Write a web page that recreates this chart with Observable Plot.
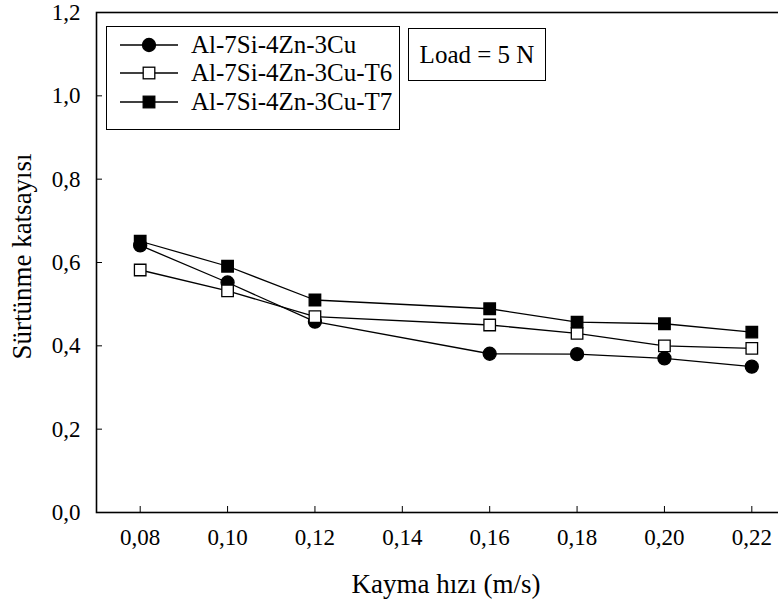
<!DOCTYPE html>
<html>
<head>
<meta charset="utf-8">
<script src="https://cdn.jsdelivr.net/npm/d3@7"></script>
<script src="https://cdn.jsdelivr.net/npm/@observablehq/plot@0.6"></script>
<style>
  body { margin: 0; background: #fff; }
  .box { position: absolute; border: 1.5px solid #000; background: #fff; box-sizing: border-box; }
  .row { position: absolute; left: 0; height: 28px; display: flex; align-items: center; }
  .row svg { display: block; }
</style>
</head>
<body>
<div id="wrap" style="position:relative;width:778px;height:602px;overflow:hidden;font-family:'Liberation Serif'">
  <div id="chart"></div>
  <div id="legend" class="box" style="left:106px; top:26px; width:294px; height:104px;"></div>
  <div id="load" class="box" style="left:408px; top:28px; width:138px; height:53px; display:flex; align-items:center; justify-content:center; font-family:'Liberation Serif'; font-size:25px;"></div>
</div>
<script>
// ---- data ----
const speeds = [0.08, 0.10, 0.12, 0.16, 0.18, 0.20, 0.22];
const asCast = [0.641, 0.552, 0.458, 0.381, 0.380, 0.370, 0.350];
const t6     = [0.582, 0.532, 0.470, 0.450, 0.430, 0.400, 0.394];
const t7     = [0.651, 0.591, 0.510, 0.489, 0.457, 0.453, 0.433];
const seriesNames = ["Al-7Si-4Zn-3Cu", "Al-7Si-4Zn-3Cu-T6", "Al-7Si-4Zn-3Cu-T7"];
const seriesSymbols = ["circle", "square", "square"];
const seriesFills = ["#000", "#fff", "#000"];
const xTicks = [0.08, 0.10, 0.12, 0.14, 0.16, 0.18, 0.20, 0.22];
const yTicks = [0, 0.2, 0.4, 0.6, 0.8, 1.0, 1.2];
const xTitle = "Kayma hızı (m/s)";
const yTitle = "Sürtünme katsayısı";
const loadText = "Load = 5 N";

const seriesValues = [asCast, t6, t7];
const rows = [];
seriesValues.forEach((vals, si) => vals.forEach((v, i) => rows.push({series: seriesNames[si], s: si, x: speeds[i], y: v})));

const fmtX = d => d.toFixed(2).replace(".", ",");
const fmtY = d => d.toFixed(1).replace(".", ",");
const FF = "Liberation Serif";

const chart = Plot.plot({
  width: 778, height: 602,
  marginLeft: 96, marginTop: 12, marginBottom: 90, marginRight: -17,
  style: {fontFamily: FF, fontSize: "23px", color: "#000", background: "#fff"},
  x: {domain: [0.07, 0.23]},
  y: {domain: [0, 1.2]},
  marks: [
    Plot.frame({stroke: "#000", strokeWidth: 1.6}),
    Plot.axisX(xTicks, {tickSize: -6, tickPadding: 22, tickFormat: fmtX, label: null, stroke: "#000", fontFamily: FF, fontSize: 23}),
    Plot.axisY(yTicks, {tickSize: -6, tickPadding: 22, tickFormat: fmtY, label: null, stroke: "#000", fontFamily: FF, fontSize: 23}),
    Plot.text([xTitle], {frameAnchor: "bottom", dy: 80, text: d => d, fontSize: 27, fontFamily: FF}),
    Plot.text([yTitle], {frameAnchor: "left", textAnchor: "middle", dx: -74, dy: -6, rotate: -90, text: d => d, fontSize: 27, fontFamily: FF}),
    Plot.line(rows, {x: "x", y: "y", z: "series", stroke: "#000", strokeWidth: 1.3}),
    Plot.dot(rows, {x: "x", y: "y", symbol: d => seriesSymbols[d.s], fill: d => seriesFills[d.s], stroke: "#000", strokeWidth: 1.3, r: 6.5})
  ]
});
document.getElementById("chart").appendChild(chart);

// ---- legend ----
const legend = document.getElementById("legend");
const rowTops = [4, 32, 61];
seriesNames.forEach((name, i) => {
  const row = document.createElement("div");
  row.className = "row";
  row.style.top = rowTops[i] + "px";
  const sym = seriesSymbols[i] === "circle"
    ? `<circle cx="30" cy="14" r="6.5" fill="${seriesFills[i]}" stroke="#000" stroke-width="1.3"/>`
    : `<rect x="24.2" y="8.2" width="11.6" height="11.6" fill="${seriesFills[i]}" stroke="#000" stroke-width="1.3"/>`;
  row.innerHTML = `<svg width="72" height="28" style="margin-left:12px"><line x1="1" x2="59" y1="14" y2="14" stroke="#000" stroke-width="1.3"/>${sym}</svg><span style="font-family:'Liberation Serif';font-size:25px;white-space:nowrap;line-height:28px">${name}</span>`;
  legend.appendChild(row);
});
document.getElementById("load").textContent = loadText;
</script>
</body>
</html>
